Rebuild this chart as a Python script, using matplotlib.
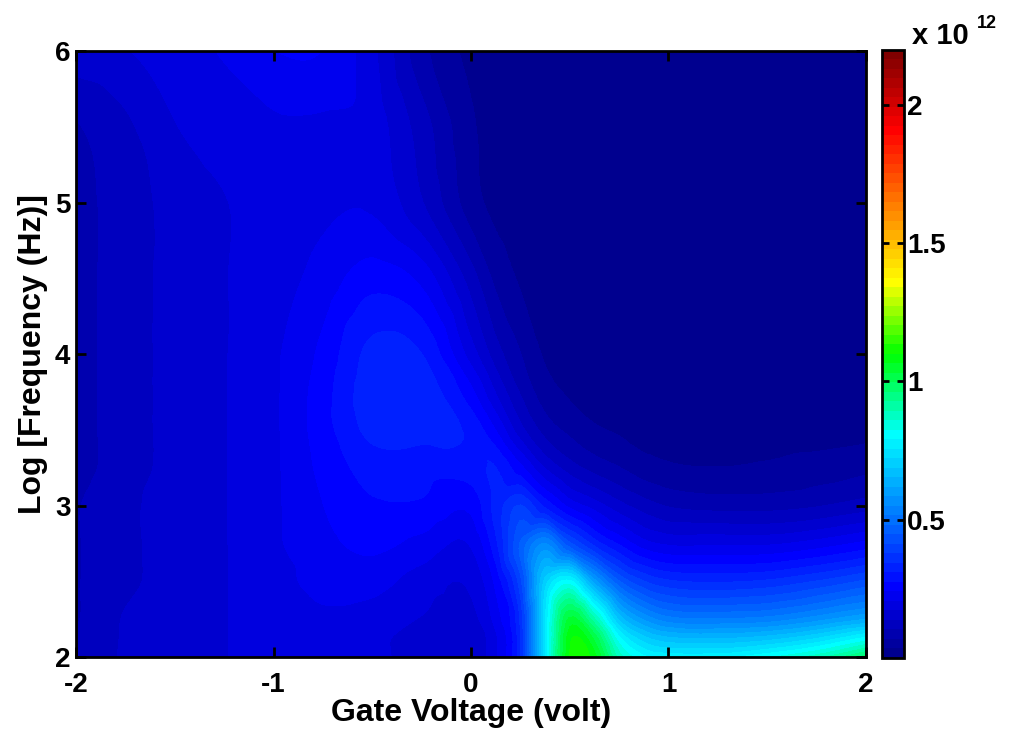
import numpy as np
import matplotlib.pyplot as plt
import matplotlib.tri as mtri
from matplotlib.colors import LinearSegmentedColormap

# gate voltage (volt) and log frequency grid
volts = [-2, -1.75, -1.5, -1.25, -1, -0.75, -0.5, -0.25, 0, 0.125, 0.25, 0.375,
         0.5, 0.625, 0.75, 0.875, 1, 1.25, 1.5, 1.75, 2]
logf = [2, 2.125, 2.25, 2.5, 2.75, 3, 3.25, 3.5, 3.75, 4, 4.5, 5, 5.5, 6]

# values in units of 1e12, one row per logf entry (bottom to top)
z_2_000 = [0.12, 0.14, 0.15, 0.17, 0.19, 0.20, 0.18, 0.16, 0.15, 0.20, 0.34, 0.75, 1.10, 1.08, 0.88, 0.80, 0.78, 0.78, 0.82, 0.88, 0.98]
z_2_125 = [0.11, 0.14, 0.15, 0.17, 0.19, 0.20, 0.18, 0.16, 0.15, 0.20, 0.34, 0.75, 1.09, 1.02, 0.80, 0.70, 0.66, 0.65, 0.67, 0.72, 0.80]
z_2_250 = [0.10, 0.14, 0.15, 0.17, 0.19, 0.20, 0.19, 0.17, 0.16, 0.22, 0.35, 0.75, 1.04, 0.90, 0.68, 0.58, 0.53, 0.52, 0.53, 0.57, 0.62]
z_2_500 = [0.10, 0.13, 0.15, 0.17, 0.19, 0.22, 0.22, 0.19, 0.18, 0.25, 0.40, 0.70, 0.80, 0.60, 0.45, 0.38, 0.35, 0.34, 0.35, 0.38, 0.42]
z_2_750 = [0.10, 0.13, 0.15, 0.17, 0.20, 0.23, 0.25, 0.23, 0.21, 0.30, 0.45, 0.55, 0.42, 0.33, 0.27, 0.22, 0.20, 0.20, 0.20, 0.22, 0.25]
z_3_000 = [0.10, 0.13, 0.15, 0.17, 0.20, 0.24, 0.27, 0.27, 0.25, 0.32, 0.38, 0.30, 0.23, 0.19, 0.15, 0.12, 0.10, 0.09, 0.09, 0.10, 0.12]
z_3_250 = [0.09, 0.12, 0.15, 0.17, 0.20, 0.25, 0.29, 0.29, 0.29, 0.31, 0.25, 0.17, 0.12, 0.09, 0.07, 0.05, 0.04, 0.035, 0.04, 0.05, 0.06]
z_3_500 = [0.09, 0.12, 0.15, 0.17, 0.20, 0.26, 0.32, 0.32, 0.30, 0.24, 0.15, 0.09, 0.06, 0.04, 0.03, 0.02, 0.02, 0.02, 0.02, 0.02, 0.025]
z_3_750 = [0.09, 0.12, 0.15, 0.17, 0.20, 0.26, 0.33, 0.33, 0.25, 0.17, 0.10, 0.05, 0.03, 0.02, 0.02, 0.02, 0.02, 0.02, 0.02, 0.02, 0.02]
z_4_000 = [0.09, 0.12, 0.15, 0.17, 0.20, 0.25, 0.32, 0.31, 0.19, 0.12, 0.07, 0.03, 0.02, 0.02, 0.02, 0.02, 0.02, 0.02, 0.02, 0.02, 0.02]
z_4_500 = [0.09, 0.12, 0.15, 0.17, 0.19, 0.22, 0.26, 0.23, 0.12, 0.06, 0.03, 0.02, 0.02, 0.02, 0.02, 0.02, 0.02, 0.02, 0.02, 0.02, 0.02]
z_5_000 = [0.09, 0.12, 0.15, 0.17, 0.19, 0.20, 0.20, 0.14, 0.05, 0.025, 0.02, 0.02, 0.02, 0.02, 0.02, 0.02, 0.02, 0.02, 0.02, 0.02, 0.02]
z_5_500 = [0.10, 0.13, 0.17, 0.19, 0.20, 0.20, 0.19, 0.12, 0.04, 0.02, 0.02, 0.02, 0.02, 0.02, 0.02, 0.02, 0.02, 0.02, 0.02, 0.02, 0.02]
z_6_000 = [0.16, 0.17, 0.19, 0.21, 0.24, 0.24, 0.18, 0.08, 0.025, 0.02, 0.02, 0.02, 0.02, 0.02, 0.02, 0.02, 0.02, 0.02, 0.02, 0.02, 0.02]

Z = np.array([z_2_000, z_2_125, z_2_250, z_2_500, z_2_750, z_3_000, z_3_250,
              z_3_500, z_3_750, z_4_000, z_4_500, z_5_000, z_5_500, z_6_000])

cbar_ticks = [0.5, 1, 1.5, 2]
cmax = 2.2

# jet-like map, 64 colours (saturated green in the middle, as in the figure)
jet64 = LinearSegmentedColormap.from_list(
    'mjet', [(0, (0, 0, 0.5625)), (7/63, (0, 0, 1)), (23/63, (0, 1, 1)),
             (31.5/63, (0, 1, 0)), (39/63, (1, 1, 0)), (55/63, (1, 0, 0)),
             (1, (0.5, 0, 0))], N=64)

plt.rcParams['font.family'] = ['Liberation Sans', 'DejaVu Sans']
plt.rcParams['font.weight'] = 'bold'
plt.rcParams['axes.unicode_minus'] = False

fig = plt.figure(figsize=(10.14, 7.40), dpi=100)
ax = fig.add_axes([0.075, 0.112, 0.779, 0.819])
cax = fig.add_axes([0.870, 0.111, 0.022, 0.822])

# smooth contours: let matplotlib refine the triangulated grid
VV, LL = np.meshgrid(volts, logf)
tri = mtri.Triangulation(VV.ravel(), LL.ravel())
refiner = mtri.UniformTriRefiner(tri)
interp = mtri.CubicTriInterpolator(tri, Z.ravel(), kind='geom')
tri_f, z_f = refiner.refine_field(Z.ravel(), triinterpolator=interp, subdiv=3)

levels = np.linspace(0, cmax, 65)
cf = ax.tricontourf(tri_f, np.clip(z_f, 0.001, cmax), levels=levels, cmap=jet64, vmin=0, vmax=cmax)

ax.set_xlim(-2, 2)
ax.set_ylim(2, 6)
ax.set_xticks([-2, -1, 0, 1, 2])
ax.set_yticks([2, 3, 4, 5, 6])
ax.tick_params(direction='in', length=7, width=2, labelsize=20, top=True, right=True, pad=4)
ax.tick_params(axis='x', pad=11)
for s in ax.spines.values():
    s.set_linewidth(2)
ax.set_xlabel('Gate Voltage (volt)', fontsize=23, fontweight='bold', labelpad=0)
ax.set_ylabel('Log [Frequency (Hz)]', fontsize=23, fontweight='bold', labelpad=5)

cb = fig.colorbar(cf, cax=cax, ticks=cbar_ticks)
cb.ax.set_yticklabels(['0.5', '1', '1.5', '2'])
cb.ax.tick_params(direction='in', length=5, width=2, labelsize=20, left=True, right=True, pad=2)
cb.outline.set_linewidth(2)
cax.set_ylim(0, cmax)
fig.text(0.899, 0.940, 'x 10', fontsize=21, fontweight='bold')
fig.text(0.963, 0.962, '12', fontsize=13)

fig.savefig('out.png', dpi=100)
